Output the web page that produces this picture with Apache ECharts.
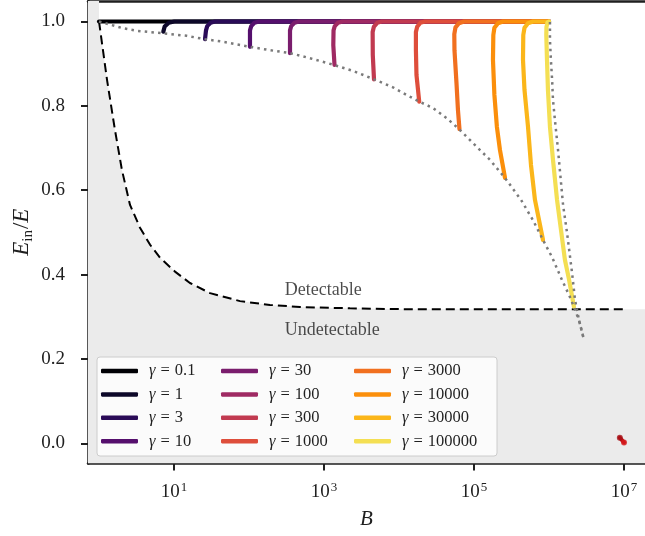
<!DOCTYPE html>
<html><head><meta charset="utf-8">
<script src="https://cdn.jsdelivr.net/npm/echarts@6/dist/echarts.min.js"></script>
<style>html,body{margin:0;padding:0;background:#fff}#c{width:645px;height:536px}</style>
</head><body><div id="c"></div>
<script>
// ---- data ----
const gammaLabels = ['0.1','1','3','10','30','100','300','1000','3000','10000','30000','100000'];
const curveColors = ['#000004','#0d0829','#2a0b57','#550f6d','#7a1d6d','#9f2a63','#c13a50','#de4e3b','#f1701f','#fb8f0b','#fbb61a','#f4df53'];
const curveB = [
  [1, 1e6],
  [7.2, 7.5, 8.5, 10.1, 1e6],
  [25.9, 26.7, 27.7, 30.7, 35.2, 1e6],
  [103, 103, 107, 118, 136, 1e6],
  [352, 352, 365, 404, 464, 1e6],
  [1380, 1330, 1340, 1390, 1535, 1760, 1e6],
  [4640, 4470, 4450, 4630, 5120, 5880, 1e6],
  [18600, 17100, 16800, 16800, 17500, 19300, 22200, 1e6],
  [64000, 61100, 58400, 54900, 54600, 56600, 63100, 73500, 1e6],
  [259000, 222000, 202000, 187000, 179000, 181000, 187000, 209000, 243000, 1e6],
  [832000, 650000, 575000, 525000, 471000, 450000, 454000, 471000, 525000, 611000, 1e6],
  [2.15e6, 1.85e6, 1.63e6, 1.28e6, 1.13e6, 1.03e6, 968000, 940000, 920000, 925000, 955000, 1e6]
];
const curveE = [
  [1, 1],
  [0.976, 0.988, 0.997, 1, 1],
  [0.958, 0.979, 0.989, 0.997, 1, 1],
  [0.940, 0.979, 0.989, 0.997, 1, 1],
  [0.925, 0.979, 0.989, 0.997, 1, 1],
  [0.897, 0.944, 0.979, 0.989, 0.997, 1, 1],
  [0.863, 0.921, 0.975, 0.988, 0.997, 1, 1],
  [0.810, 0.873, 0.932, 0.975, 0.988, 0.997, 1, 1],
  [0.745, 0.790, 0.854, 0.932, 0.970, 0.986, 0.996, 1, 1],
  [0.629, 0.695, 0.750, 0.826, 0.909, 0.968, 0.985, 0.996, 1, 1],
  [0.482, 0.577, 0.660, 0.750, 0.838, 0.909, 0.968, 0.985, 0.996, 1, 1],
  [0.324, 0.388, 0.435, 0.577, 0.672, 0.750, 0.838, 0.909, 0.968, 0.987, 0.998, 1.0]
];
const envelopeB = [1.0, 2.09, 3.18, 7.13, 14.8, 25.9, 45, 103, 190, 352, 650, 1360, 2430, 4640, 8300, 12600, 18600, 28400, 43200, 63100, 88300, 163000, 259000, 424000, 611000, 832000, 1.1e6, 1.49e6, 1.9e6, 2.15e6, 2.51e6, 2.93e6];
const envelopeE = [1.0, 0.984, 0.978, 0.972, 0.966, 0.958, 0.952, 0.940, 0.932, 0.925, 0.913, 0.897, 0.883, 0.863, 0.844, 0.826, 0.810, 0.795, 0.771, 0.745, 0.719, 0.672, 0.629, 0.577, 0.529, 0.482, 0.441, 0.387, 0.347, 0.323, 0.292, 0.245];
const boundB = [1.03e6, 1.03e6, 1.06e6, 1.1e6, 1.13e6, 1.2e6, 1.32e6, 1.54e6, 1.74e6, 2.03e6, 2.22e6, 2.51e6, 2.93e6];
const boundE = [0.999, 0.956, 0.909, 0.862, 0.814, 0.766, 0.695, 0.565, 0.499, 0.404, 0.341, 0.292, 0.245];
const thresholdB = [1.0, 1.28, 1.63, 2.02, 2.59, 3.52, 4.78, 6.5, 10.3, 16.3, 30.2, 75.9, 190, 478, 2220, 10300, 1.03e7];
const thresholdE = [1.0, 0.861, 0.743, 0.648, 0.565, 0.511, 0.471, 0.440, 0.407, 0.380, 0.356, 0.337, 0.328, 0.323, 0.320, 0.318, 0.318];
const redB = [8.8e6, 1.0e7];
const redE = [0.013, 0.002];
const redColors = ['#a50f15', '#d7191c'];
const xTickExponents = [1, 3, 5, 7];
const yTicks = [0, 0.2, 0.4, 0.6, 0.8, 1.0];
const annotations = [
  {text: 'Detectable', B: 300, E: 0.362},
  {text: 'Undetectable', B: 300, E: 0.267}
];
const legendColumns = [
  ['0.1','1','3','10'],
  ['30','100','300','1000'],
  ['3000','10000','30000','100000']
];

// ---- chart ----
const FONT = "'Liberation Serif', 'DejaVu Serif', serif";
const TXT = '#1f1f1f';
const xMin = -0.147, xMax = 7.28, yMin = -0.048, yMax = 1.0486;
const lg = Math.log10;
const pts = (B, E) => B.map((b, i) => [lg(b), E[i]]);

const series = [];
const fillData = [[xMin, yMax], [lg(thresholdB[0]), yMax]].concat(pts(thresholdB, thresholdE));
fillData.push([xMax, thresholdE[thresholdE.length - 1]]);
series.push({
  type: 'line', name: 'fill', data: fillData, showSymbol: false, symbol: 'none',
  lineStyle: {width: 0, opacity: 0}, areaStyle: {color: '#ebebeb', opacity: 1, origin: 'start'},
  z: 1, silent: true
});
series.push({
  type: 'line', name: 'threshold', data: pts(thresholdB, thresholdE), showSymbol: false, symbol: 'none',
  lineStyle: {width: 2, color: '#000', type: [9, 5]}, z: 3, silent: true
});
gammaLabels.forEach((g, i) => {
  series.push({
    type: 'line', name: g, data: pts(curveB[i], curveE[i]), showSymbol: false, symbol: 'none',
    color: curveColors[i], itemStyle: {color: curveColors[i]},
    lineStyle: {width: 4.2, color: curveColors[i], cap: 'round', join: 'round'},
    z: 3, silent: true
  });
});
series.push({
  type: 'line', name: 'envelope', data: pts(envelopeB, envelopeE), showSymbol: false, symbol: 'none',
  lineStyle: {width: 2.5, color: '#7a7a7a', type: [2.5, 4.2]}, z: 5, silent: true
});
series.push({
  type: 'line', name: 'bound', data: pts(boundB, boundE), showSymbol: false, symbol: 'none',
  lineStyle: {width: 2.5, color: '#7a7a7a', type: [2.5, 4.2]}, z: 5, silent: true
});
series.push({
  type: 'line', name: 'red', data: pts(redB, redE), showSymbol: false, symbol: 'none',
  lineStyle: {width: 4, color: '#bf1419', cap: 'round'}, z: 4, silent: true
});
series.push({
  type: 'scatter', name: 'redpts', symbolSize: 6, z: 4, silent: true,
  data: redB.map((b, i) => ({value: [lg(b), redE[i]], itemStyle: {color: redColors[i]}}))
});
series.push({
  type: 'scatter', name: 'annot', symbolSize: 0, z: 6, silent: true,
  data: annotations.map(a => ({value: [lg(a.B), a.E], name: a.text})),
  label: {show: true, position: 'right', distance: 0, formatter: p => p.name,
    fontFamily: FONT, fontSize: 18, color: TXT}
});

const legendRich = {
  g: {fontStyle: 'italic', fontFamily: FONT, fontSize: 16.5, color: TXT},
  eq: {fontFamily: FONT, fontSize: 16.5, color: TXT, padding: [0, 5, 0, 5]},
  v: {fontFamily: FONT, fontSize: 16.5, color: TXT}
};
const legendLefts = [101, 221, 354];
const legends = legendColumns.map((col, k) => ({
  data: col.map(n => ({name: n, icon: 'roundRect'})),
  orient: 'vertical', left: legendLefts[k], top: 361.5, padding: 0,
  itemWidth: 37, itemHeight: 4.5, itemGap: 4.4, z: 10,
  formatter: name => '{g|γ}{eq|=}{v|' + name + '}',
  textStyle: {fontFamily: FONT, fontSize: 16.5, color: TXT, lineHeight: 19, padding: [0, 0, 0, 6], rich: legendRich},
  selectedMode: false
}));

const axisLineStyle = {color: TXT, width: 2.5};
const option = {
  animation: false,
  backgroundColor: '#ffffff',
  grid: {left: 88, right: 0, top: 1, bottom: 72.5, containLabel: false, outerBoundsMode: 'none'},
  legend: legends,
  graphic: [{
    type: 'rect', z: 8, silent: true,
    shape: {x: 97, y: 357, width: 400, height: 99, r: 3},
    style: {fill: 'rgba(255,255,255,0.8)', stroke: '#cccccc', lineWidth: 1}
  }],
  xAxis: [{
    type: 'value', min: xMin, max: xMax, position: 'bottom',
    splitLine: {show: false},
    axisLine: {show: true, onZero: false, lineStyle: axisLineStyle},
    axisTick: {show: true, length: 7, lineStyle: {color: TXT, width: 2}, customValues: xTickExponents},
    axisLabel: {
      customValues: xTickExponents, margin: 18,
      formatter: v => '{b|10}{s|' + v + '}',
      rich: {
        b: {fontFamily: FONT, fontSize: 19, color: TXT, lineHeight: 20, verticalAlign: 'bottom'},
        s: {fontFamily: FONT, fontSize: 13, color: TXT, lineHeight: 14, verticalAlign: 'top', padding: [0, 0, 8, 1]}
      }
    },
    name: 'B', nameLocation: 'middle', nameGap: 45, nameMoveOverlap: false,
    nameTextStyle: {fontFamily: FONT, fontStyle: 'italic', fontSize: 21, color: TXT}
  }, {
    type: 'value', min: xMin, max: xMax, position: 'top',
    splitLine: {show: false}, axisTick: {show: false}, axisLabel: {show: false},
    axisLine: {show: true, onZero: false, lineStyle: axisLineStyle}
  }],
  yAxis: {
    type: 'value', min: yMin, max: yMax,
    splitLine: {show: false},
    axisLine: {show: true, onZero: false, lineStyle: axisLineStyle},
    axisTick: {show: true, length: 7, lineStyle: {color: TXT, width: 2}, customValues: yTicks},
    axisLabel: {customValues: yTicks, margin: 23, formatter: v => v.toFixed(1),
      fontFamily: FONT, fontSize: 19, color: TXT},
    name: '{e|E}{s|in}{n|/}{e|E}', nameLocation: 'middle', nameGap: 52, nameMoveOverlap: false,
    nameTextStyle: {
      rich: {
        e: {fontFamily: FONT, fontStyle: 'italic', fontSize: 23, color: TXT, lineHeight: 28, verticalAlign: 'middle'},
        n: {fontFamily: FONT, fontSize: 23, color: TXT, lineHeight: 28, verticalAlign: 'middle'},
        s: {fontFamily: FONT, fontSize: 15, color: TXT, lineHeight: 15, verticalAlign: 'bottom', padding: [0, 1, 0, 0]}
      }
    }
  },
  series: series
};
const chart = echarts.init(document.getElementById('c'), null, {renderer: 'canvas'});
chart.setOption(option);
</script>
</body></html>
